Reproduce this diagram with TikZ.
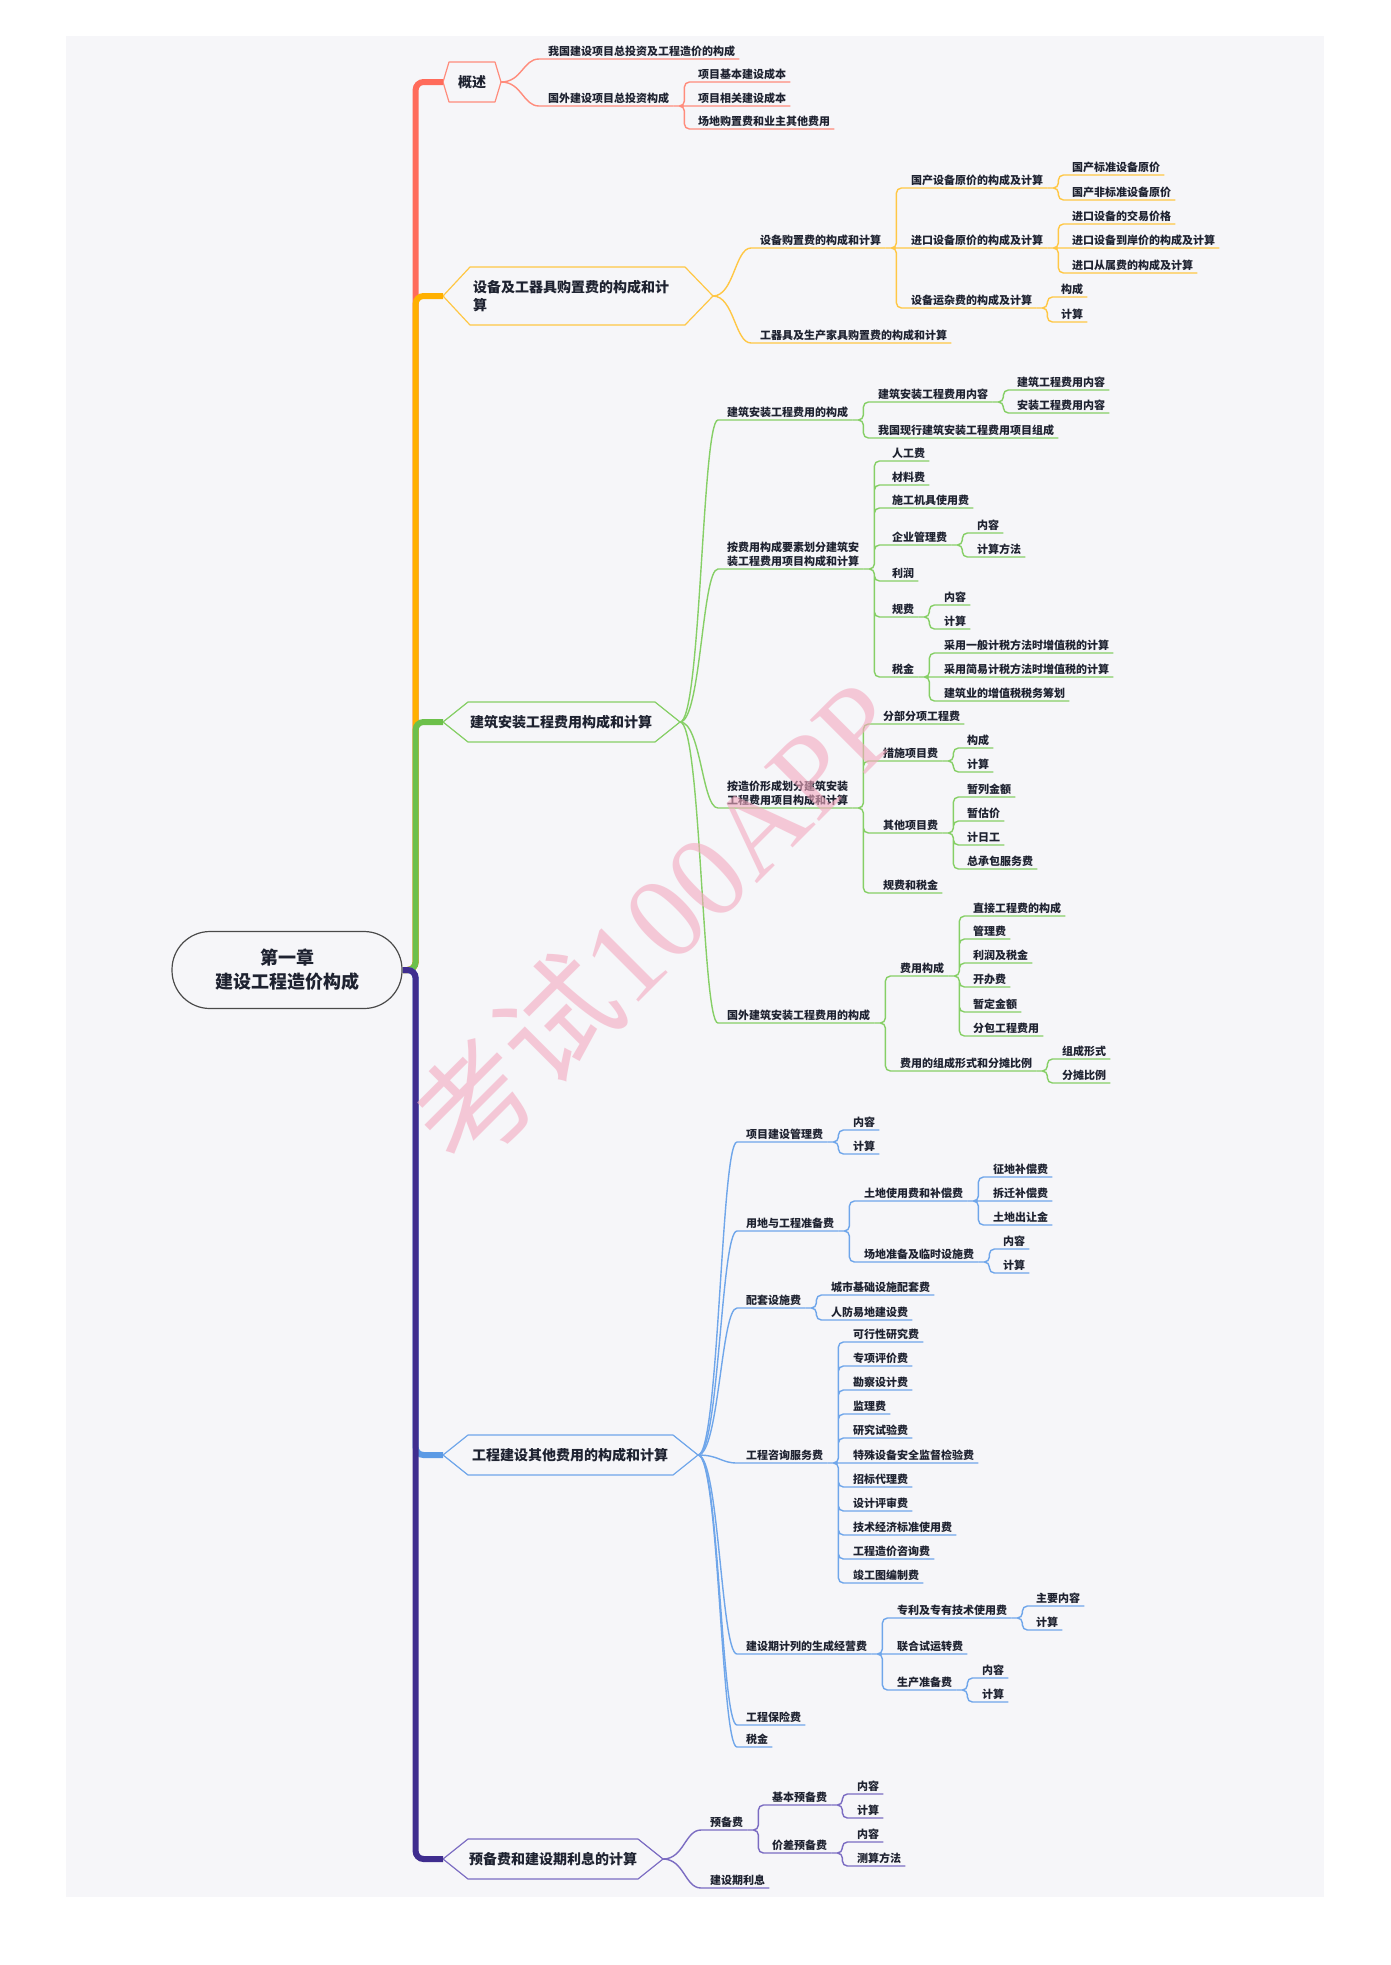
\documentclass[tikz,border=0pt]{standalone}
\usepackage{fontspec}
\setmainfont{Noto Sans CJK SC}
\newfontfamily\wmlat{Liberation Serif}
\definecolor{bg}{HTML}{F6F6F9}
\definecolor{ink}{HTML}{1E2230}
\definecolor{rootc}{HTML}{4A4A4A}
\definecolor{rk}{HTML}{FF6B5B}
\definecolor{rl}{HTML}{FF8C7C}
\definecolor{ok}{HTML}{FFB000}
\definecolor{ol}{HTML}{FFC745}
\definecolor{gk}{HTML}{6CC04A}
\definecolor{gl}{HTML}{86CF66}
\definecolor{bk}{HTML}{5B9AE5}
\definecolor{bl}{HTML}{6FA6EA}
\definecolor{pk}{HTML}{3F2D8F}
\definecolor{pl}{HTML}{7B6CC2}
\definecolor{wmc}{HTML}{F4A9BF}
\tikzset{
  root/.style={draw=rootc,fill=bg,line width=1.2pt,rounded corners=38pt,minimum width=230pt,minimum height=77pt,align=center,text=ink,font=\bfseries\fontsize{18}{24}\selectfont},
  topic/.style={inner sep=0pt,align=left,text=ink,font=\bfseries\fontsize{14}{18}\selectfont},
  leaf/.style={anchor=south west,inner xsep=4pt,inner ysep=2pt,align=left,text=ink,font=\bfseries\fontsize{11}{14.5}\selectfont},
  hexa/.style={draw=#1,fill=bg,line width=1.2pt,line join=round},
  trunk/.style={draw=#1,line width=6pt,rounded corners=8pt},
  link/.style={draw=#1,line width=1.4pt,rounded corners=5pt},
  fork/.style={to path={-- ++(11,0) |- (\tikztotarget)}},
  swoop/.style={out=0,in=180,distance=21pt},
  wm/.style={rotate=45,text=wmc,text opacity=0.6,font=\fontsize{118}{118}\selectfont}
}
\begin{document}
\begin{tikzpicture}[x=1pt,y=-1pt]
\useasboundingbox (0,0) rectangle (1391,1965);
\fill[bg] (66,36) rectangle (1324,1897);
\node[root] (root) at (287,970) {第一章\\建设工程造价构成};
\draw[hexa=rl] (443,82) coordinate (aL) -- (449,62) -- (495,62) -- (501,82) coordinate (aR) -- (495,102) -- (449,102) -- cycle;
\draw[hexa=ol] (443,296) coordinate (bL) -- (470,267) -- (685,267) -- (713,296) coordinate (bR) -- (685,325) -- (470,325) -- cycle;
\draw[hexa=gl] (443,722) coordinate (cL) -- (468,702) -- (655,702) -- (680,722) coordinate (cR) -- (655,742) -- (468,742) -- cycle;
\draw[hexa=bl] (443,1455) coordinate (dL) -- (468,1435) -- (673,1435) -- (698,1455) coordinate (dR) -- (673,1475) -- (468,1475) -- cycle;
\draw[hexa=pl] (443,1859) coordinate (eL) -- (468,1839) -- (638,1839) -- (663,1859) coordinate (eR) -- (638,1879) -- (468,1879) -- cycle;
\node[topic] (a) at (472,82) {概述};
\node[topic,anchor=west] (b) at (473,296) {设备及工器具购置费的构成和计\\算};
\node[topic] (c) at (561,722) {建筑安装工程费用构成和计算};
\node[topic] (d) at (570,1455) {工程建设其他费用的构成和计算};
\node[topic] (e) at (553,1859) {预备费和建设期利息的计算};
\draw[trunk=rk] (root.east) -- ++(13,0) |- (aL);
\draw[trunk=ok] (root.east) -- ++(13,0) |- (bL);
\draw[trunk=gk] (root.east) -- ++(13,0) |- (cL);
\draw[trunk=bk] (root.east) -- ++(13,0) |- (dL);
\draw[trunk=pk] (root.east) -- ++(13,0) |- (eL);
\node[leaf] (a1) at (544,59) {我国建设项目总投资及工程造价的构成};
\node[leaf] (a2) at (544,106) {国外建设项目总投资构成};
\node[leaf] (a21) at (694,82) {项目基本建设成本};
\node[leaf] (a22) at (694,106) {项目相关建设成本};
\node[leaf] (a23) at (694,129) {场地购置费和业主其他费用};
\node[leaf] (b1) at (756,248) {设备购置费的构成和计算};
\node[leaf] (b2) at (756,343) {工器具及生产家具购置费的构成和计算};
\node[leaf] (b11) at (907,188) {国产设备原价的构成及计算};
\node[leaf] (b12) at (907,248) {进口设备原价的构成及计算};
\node[leaf] (b13) at (907,308) {设备运杂费的构成及计算};
\node[leaf] (b111) at (1068,175) {国产标准设备原价};
\node[leaf] (b112) at (1068,200) {国产非标准设备原价};
\node[leaf] (b121) at (1068,224) {进口设备的交易价格};
\node[leaf] (b122) at (1068,248) {进口设备到岸价的构成及计算};
\node[leaf] (b123) at (1068,273) {进口从属费的构成及计算};
\node[leaf] (b131) at (1057,297) {构成};
\node[leaf] (b132) at (1057,322) {计算};
\node[leaf] (c1) at (723,420) {建筑安装工程费用的构成};
\node[leaf] (c11) at (874,402) {建筑安装工程费用内容};
\node[leaf] (c12) at (874,438) {我国现行建筑安装工程费用项目组成};
\node[leaf] (c111) at (1013,390) {建筑工程费用内容};
\node[leaf] (c112) at (1013,413) {安装工程费用内容};
\node[leaf] (c2) at (723,569) {按费用构成要素划分建筑安\\装工程费用项目构成和计算};
\node[leaf] (c21) at (888,461) {人工费};
\node[leaf] (c22) at (888,485) {材料费};
\node[leaf] (c23) at (888,508) {施工机具使用费};
\node[leaf] (c24) at (888,545) {企业管理费};
\node[leaf] (c241) at (973,533) {内容};
\node[leaf] (c242) at (973,557) {计算方法};
\node[leaf] (c25) at (888,581) {利润};
\node[leaf] (c26) at (888,617) {规费};
\node[leaf] (c261) at (940,605) {内容};
\node[leaf] (c262) at (940,629) {计算};
\node[leaf] (c27) at (888,677) {税金};
\node[leaf] (c271) at (940,653) {采用一般计税方法时增值税的计算};
\node[leaf] (c272) at (940,677) {采用简易计税方法时增值税的计算};
\node[leaf] (c273) at (940,701) {建筑业的增值税税务筹划};
\node[leaf] (c3) at (723,808) {按造价形成划分建筑安装\\工程费用项目构成和计算};
\node[leaf] (c31) at (879,724) {分部分项工程费};
\node[leaf] (c32) at (879,761) {措施项目费};
\node[leaf] (c321) at (963,748) {构成};
\node[leaf] (c322) at (963,772) {计算};
\node[leaf] (c33) at (879,833) {其他项目费};
\node[leaf] (c331) at (963,797) {暂列金额};
\node[leaf] (c332) at (963,821) {暂估价};
\node[leaf] (c333) at (963,845) {计日工};
\node[leaf] (c334) at (963,869) {总承包服务费};
\node[leaf] (c34) at (879,893) {规费和税金};
\node[leaf] (c4) at (723,1023) {国外建筑安装工程费用的构成};
\node[leaf] (c41) at (896,976) {费用构成};
\node[leaf] (c411) at (969,916) {直接工程费的构成};
\node[leaf] (c412) at (969,939) {管理费};
\node[leaf] (c413) at (969,963) {利润及税金};
\node[leaf] (c414) at (969,987) {开办费};
\node[leaf] (c415) at (969,1012) {暂定金额};
\node[leaf] (c416) at (969,1036) {分包工程费用};
\node[leaf] (c42) at (896,1071) {费用的组成形式和分摊比例};
\node[leaf] (c421) at (1058,1059) {组成形式};
\node[leaf] (c422) at (1058,1083) {分摊比例};
\node[leaf] (d1) at (742,1142) {项目建设管理费};
\node[leaf] (d11) at (849,1130) {内容};
\node[leaf] (d12) at (849,1154) {计算};
\node[leaf] (d2) at (742,1231) {用地与工程准备费};
\node[leaf] (d21) at (860,1201) {土地使用费和补偿费};
\node[leaf] (d211) at (989,1177) {征地补偿费};
\node[leaf] (d212) at (989,1201) {拆迁补偿费};
\node[leaf] (d213) at (989,1225) {土地出让金};
\node[leaf] (d22) at (860,1262) {场地准备及临时设施费};
\node[leaf] (d221) at (999,1249) {内容};
\node[leaf] (d222) at (999,1273) {计算};
\node[leaf] (d3) at (742,1308) {配套设施费};
\node[leaf] (d31) at (827,1295) {城市基础设施配套费};
\node[leaf] (d32) at (827,1320) {人防易地建设费};
\node[leaf] (d4) at (742,1463) {工程咨询服务费};
\node[leaf] (d41) at (849,1342) {可行性研究费};
\node[leaf] (d42) at (849,1366) {专项评价费};
\node[leaf] (d43) at (849,1390) {勘察设计费};
\node[leaf] (d44) at (849,1414) {监理费};
\node[leaf] (d45) at (849,1438) {研究试验费};
\node[leaf] (d46) at (849,1463) {特殊设备安全监督检验费};
\node[leaf] (d47) at (849,1487) {招标代理费};
\node[leaf] (d48) at (849,1511) {设计评审费};
\node[leaf] (d49) at (849,1535) {技术经济标准使用费};
\node[leaf] (d410) at (849,1559) {工程造价咨询费};
\node[leaf] (d411) at (849,1583) {竣工图编制费};
\node[leaf] (d5) at (742,1654) {建设期计列的生成经营费};
\node[leaf] (d51) at (893,1618) {专利及专有技术使用费};
\node[leaf] (d511) at (1032,1606) {主要内容};
\node[leaf] (d512) at (1032,1630) {计算};
\node[leaf] (d52) at (893,1654) {联合试运转费};
\node[leaf] (d53) at (893,1690) {生产准备费};
\node[leaf] (d531) at (978,1678) {内容};
\node[leaf] (d532) at (978,1702) {计算};
\node[leaf] (d6) at (742,1725) {工程保险费};
\node[leaf] (d7) at (742,1747) {税金};
\node[leaf] (e1) at (706,1830) {预备费};
\node[leaf] (e11) at (768,1805) {基本预备费};
\node[leaf] (e111) at (853,1794) {内容};
\node[leaf] (e112) at (853,1818) {计算};
\node[leaf] (e12) at (768,1853) {价差预备费};
\node[leaf] (e121) at (853,1842) {内容};
\node[leaf] (e122) at (853,1866) {测算方法};
\node[leaf] (e2) at (706,1888) {建设期利息};
\draw[link=rl] (aR) to[swoop] (a1.south west) -- (a1.south east);
\draw[link=rl] (aR) to[swoop] (a2.south west) -- (a2.south east);
\draw[link=rl] (a2.south east) to[fork] (a21.south east) (a2.south east) -- (a22.south east) (a2.south east) to[fork] (a23.south east);
\draw[link=ol] (bR) to[swoop] (b1.south west) -- (b1.south east);
\draw[link=ol] (bR) to[swoop] (b2.south west) -- (b2.south east);
\draw[link=ol] (b1.south east) to[fork] (b11.south east) (b1.south east) -- (b12.south east) (b1.south east) to[fork] (b13.south east);
\draw[link=ol] (b11.south east) to[fork] (b111.south east) (b11.south east) to[fork] (b112.south east);
\draw[link=ol] (b12.south east) to[fork] (b121.south east) (b12.south east) -- (b122.south east) (b12.south east) to[fork] (b123.south east);
\draw[link=ol] (b13.south east) to[fork] (b131.south east) (b13.south east) to[fork] (b132.south east);
\draw[link=gl] (cR) to[swoop] (c1.south west) -- (c1.south east);
\draw[link=gl] (cR) to[swoop] (c2.south west) -- (c2.south east);
\draw[link=gl] (cR) to[swoop] (c3.south west) -- (c3.south east);
\draw[link=gl] (cR) to[swoop] (c4.south west) -- (c4.south east);
\draw[link=gl] (c1.south east) to[fork] (c11.south east) (c1.south east) to[fork] (c12.south east);
\draw[link=gl] (c11.south east) to[fork] (c111.south east) (c11.south east) to[fork] (c112.south east);
\draw[link=gl] (c2.south east) to[fork] (c21.south east) (c2.south east) to[fork] (c22.south east) (c2.south east) to[fork] (c23.south east) (c2.south east) to[fork] (c24.south east) (c2.south east) to[fork] (c25.south east) (c2.south east) to[fork] (c26.south east) (c2.south east) to[fork] (c27.south east);
\draw[link=gl] (c24.south east) to[fork] (c241.south east) (c24.south east) to[fork] (c242.south east);
\draw[link=gl] (c26.south east) to[fork] (c261.south east) (c26.south east) to[fork] (c262.south east);
\draw[link=gl] (c27.south east) to[fork] (c271.south east) (c27.south east) -- (c272.south east) (c27.south east) to[fork] (c273.south east);
\draw[link=gl] (c3.south east) to[fork] (c31.south east) (c3.south east) to[fork] (c32.south east) (c3.south east) to[fork] (c33.south east) (c3.south east) to[fork] (c34.south east);
\draw[link=gl] (c32.south east) to[fork] (c321.south east) (c32.south east) to[fork] (c322.south east);
\draw[link=gl] (c33.south east) to[fork] (c331.south east) (c33.south east) to[fork] (c332.south east) (c33.south east) to[fork] (c333.south east) (c33.south east) to[fork] (c334.south east);
\draw[link=gl] (c4.south east) to[fork] (c41.south east) (c4.south east) to[fork] (c42.south east);
\draw[link=gl] (c41.south east) to[fork] (c411.south east) (c41.south east) to[fork] (c412.south east) (c41.south east) to[fork] (c413.south east) (c41.south east) to[fork] (c414.south east) (c41.south east) to[fork] (c415.south east) (c41.south east) to[fork] (c416.south east);
\draw[link=gl] (c42.south east) to[fork] (c421.south east) (c42.south east) to[fork] (c422.south east);
\draw[link=bl] (dR) to[swoop] (d1.south west) -- (d1.south east);
\draw[link=bl] (dR) to[swoop] (d2.south west) -- (d2.south east);
\draw[link=bl] (dR) to[swoop] (d3.south west) -- (d3.south east);
\draw[link=bl] (dR) to[swoop] (d4.south west) -- (d4.south east);
\draw[link=bl] (dR) to[swoop] (d5.south west) -- (d5.south east);
\draw[link=bl] (dR) to[swoop] (d6.south west) -- (d6.south east);
\draw[link=bl] (dR) to[swoop] (d7.south west) -- (d7.south east);
\draw[link=bl] (d1.south east) to[fork] (d11.south east) (d1.south east) to[fork] (d12.south east);
\draw[link=bl] (d2.south east) to[fork] (d21.south east) (d2.south east) to[fork] (d22.south east);
\draw[link=bl] (d21.south east) to[fork] (d211.south east) (d21.south east) -- (d212.south east) (d21.south east) to[fork] (d213.south east);
\draw[link=bl] (d22.south east) to[fork] (d221.south east) (d22.south east) to[fork] (d222.south east);
\draw[link=bl] (d3.south east) to[fork] (d31.south east) (d3.south east) to[fork] (d32.south east);
\draw[link=bl] (d4.south east) to[fork] (d41.south east) (d4.south east) to[fork] (d42.south east) (d4.south east) to[fork] (d43.south east) (d4.south east) to[fork] (d44.south east) (d4.south east) to[fork] (d45.south east) (d4.south east) -- (d46.south east) (d4.south east) to[fork] (d47.south east) (d4.south east) to[fork] (d48.south east) (d4.south east) to[fork] (d49.south east) (d4.south east) to[fork] (d410.south east) (d4.south east) to[fork] (d411.south east);
\draw[link=bl] (d5.south east) to[fork] (d51.south east) (d5.south east) -- (d52.south east) (d5.south east) to[fork] (d53.south east);
\draw[link=bl] (d51.south east) to[fork] (d511.south east) (d51.south east) to[fork] (d512.south east);
\draw[link=bl] (d53.south east) to[fork] (d531.south east) (d53.south east) to[fork] (d532.south east);
\draw[link=pl] (eR) to[swoop] (e1.south west) -- (e1.south east);
\draw[link=pl] (eR) to[swoop] (e2.south west) -- (e2.south east);
\draw[link=pl] (e1.south east) to[fork] (e11.south east) (e1.south east) to[fork] (e12.south east);
\draw[link=pl] (e11.south east) to[fork] (e111.south east) (e11.south east) to[fork] (e112.south east);
\draw[link=pl] (e12.south east) to[fork] (e121.south east) (e12.south east) to[fork] (e122.south east);
\node[wm] (mark) at (655,922) {考试{\wmlat 100APP}};
\end{tikzpicture}
\end{document}
